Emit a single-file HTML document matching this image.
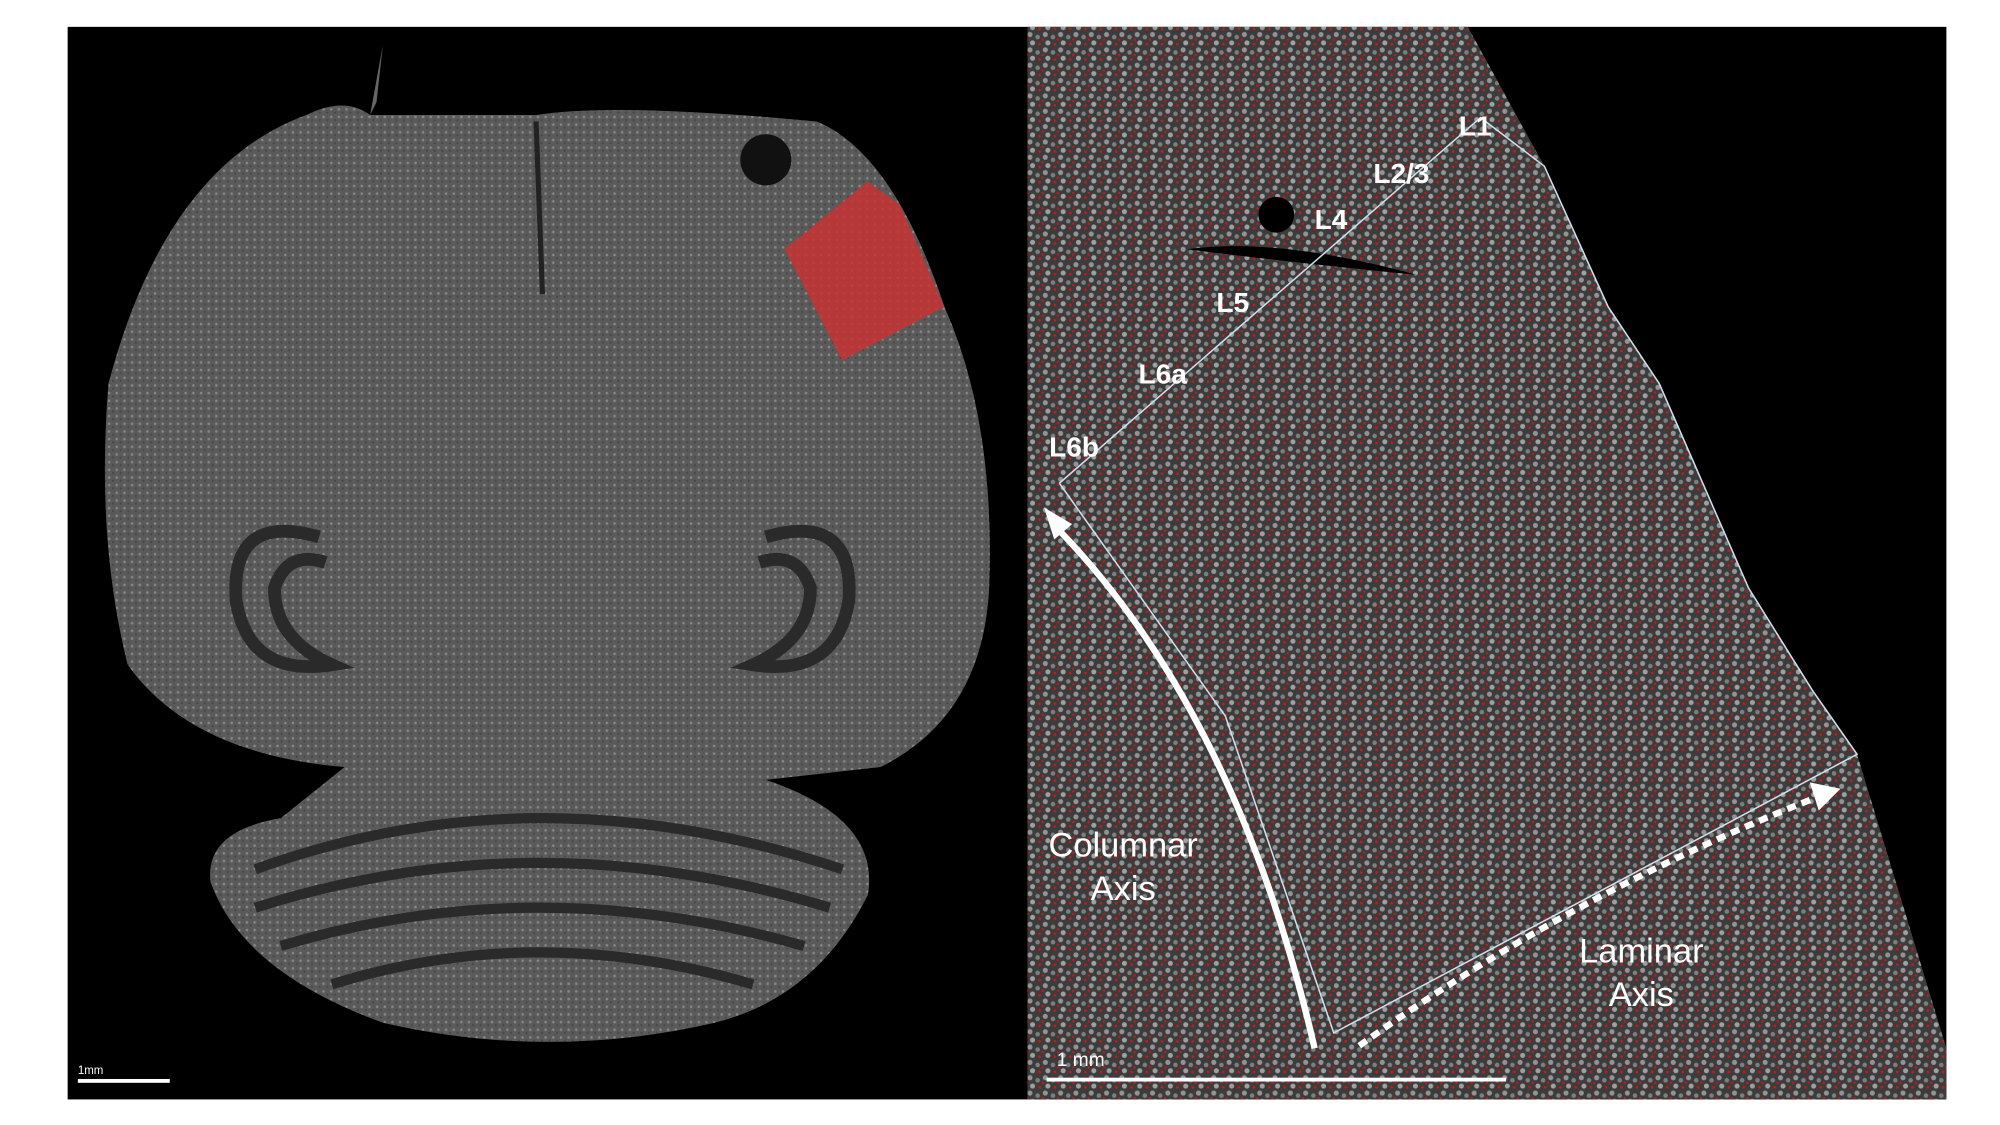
<!DOCTYPE html>
<html><head><meta charset="utf-8"><style>
html,body{margin:0;padding:0;background:#fff;width:2000px;height:1125px;overflow:hidden}
svg{display:block}
text{font-family:"Liberation Sans",sans-serif;fill:#fff}
</style></head><body>
<svg width="2000" height="1125" viewBox="0 0 1567 880" preserveAspectRatio="none">
<defs>
<pattern id="tex" width="12" height="12" patternUnits="userSpaceOnUse">
<rect width="12" height="12" fill="#3c3c3c"/>
<circle cx="3" cy="3" r="2" fill="#939393"/><circle cx="9" cy="5" r="1.8" fill="#7e7e7e"/>
<circle cx="5" cy="9.5" r="2" fill="#a0a0a0"/><circle cx="10.5" cy="10.5" r="1" fill="#e01010"/>
<circle cx="1" cy="7" r="0.9" fill="#e01010"/>
</pattern>
<pattern id="btex" width="6" height="6" patternUnits="userSpaceOnUse">
<rect width="6" height="6" fill="#5a5a5a"/><circle cx="1.5" cy="1.5" r="1" fill="#888"/><circle cx="4.5" cy="4" r="0.8" fill="#444"/>
</pattern>
</defs>
<rect x="53" y="21" width="1472" height="839" fill="#000"/>
<g>
<path d="M240,90 Q270,75 290,90 L420,90 Q480,80 640,95 Q700,120 740,240 Q780,330 775,460 Q770,560 690,600 L600,610 Q690,640 680,700 Q640,780 560,800 Q430,830 300,800 Q190,760 165,690 Q160,650 220,640 L270,600 Q150,590 100,520 Q75,420 85,300 Q130,130 240,90 Z" fill="url(#btex)"/>
<path d="M290,90 L300,35 L295,80 Z" fill="#666"/>
<path d="M420,95 L425,230" stroke="#222" stroke-width="4"/>
<path d="M250,420 Q180,400 185,470 Q195,530 260,520 Q215,500 215,460 Q225,430 255,440" fill="none" stroke="#2a2a2a" stroke-width="10"/>
<path d="M600,420 Q670,400 665,470 Q655,530 590,520 Q635,500 635,460 Q625,430 595,440" fill="none" stroke="#2a2a2a" stroke-width="10"/>
<path d="M200,680 Q420,600 660,680 M200,710 Q420,640 650,710 M220,740 Q420,680 630,740 M260,770 Q420,720 590,770" fill="none" stroke="#2a2a2a" stroke-width="8"/>
<circle cx="600" cy="125" r="20" fill="#111"/>
<polygon points="615,195 680,142 705,160 740,240 660,282" fill="#c83232" opacity="0.85"/>
</g>
<rect x="61" y="844" width="72" height="3" fill="#fff"/>
<text x="61" y="840" font-size="9">1mm</text>
<g>
<path d="M805,21 L1150,21 L1210,130 L1260,240 L1300,300 L1370,460 L1420,540 L1455,590 L1525,820 L1525,860 L805,860 Z" fill="url(#tex)"/>
<path d="M930,195 Q1000,185 1110,215 Q1010,205 930,195 Z" fill="#000"/>
<circle cx="1000" cy="168" r="14" fill="#000"/>
</g>
<polyline points="830,378 1160,92 1210,130 1260,240 1300,300 1370,460 1420,540 1455,590 1045,808 960,560 830,378" fill="none" stroke="#cfe0ee" stroke-width="1.2"/>
<g font-weight="bold" font-size="22">
<text x="1143" y="106">L1</text>
<text x="1076" y="143">L2/3</text>
<text x="1030" y="179">L4</text>
<text x="953" y="244">L5</text>
<text x="892" y="300">L6a</text>
<text x="822" y="357">L6b</text>
</g>
<path d="M1030,820 Q970,560 830,415" fill="none" stroke="#fff" stroke-width="5"/>
<polygon points="818,397 840,410 826,422" fill="#fff"/>
<path d="M1065,818 Q1230,700 1420,625" fill="none" stroke="#fff" stroke-width="5" stroke-dasharray="7,5"/>
<polygon points="1442,617 1418,612 1425,634" fill="#fff"/>
<text x="880" y="670" font-size="27" text-anchor="middle">Columnar</text>
<text x="880" y="704" font-size="27" text-anchor="middle">Axis</text>
<text x="1286" y="753" font-size="27" text-anchor="middle">Laminar</text>
<text x="1286" y="787" font-size="27" text-anchor="middle">Axis</text>
<rect x="820" y="843" width="360" height="3" fill="#fff"/>
<text x="828" y="834" font-size="15">1 mm</text>
</svg>
</body></html>
